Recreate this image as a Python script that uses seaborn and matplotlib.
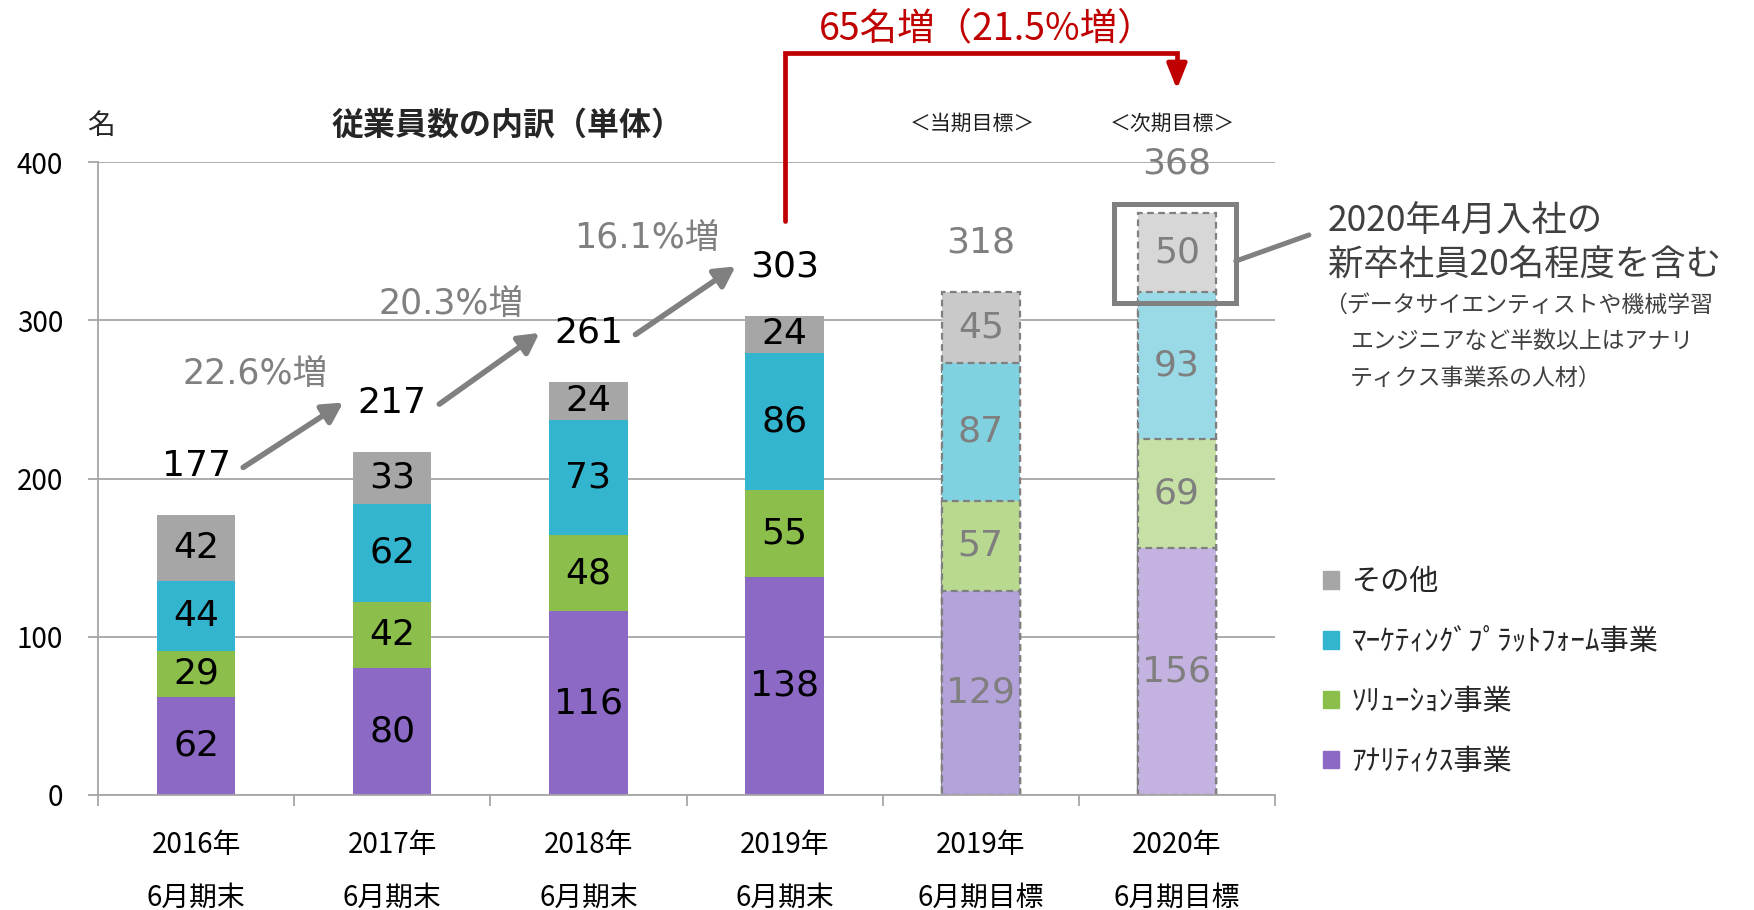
import numpy as np
import pandas as pd
import matplotlib
matplotlib.use("Agg")
import matplotlib.pyplot as plt
import seaborn as sns
from matplotlib.patches import Rectangle, Patch

# ---- data ----
periods = ["2016年\n6月期末", "2017年\n6月期末", "2018年\n6月期末",
           "2019年\n6月期末", "2019年\n6月期目標", "2020年\n6月期目標"]
analytics = [62, 80, 116, 138, 129, 156]
solution = [29, 42, 48, 55, 57, 69]
marketing = [44, 62, 73, 86, 87, 93]
other = [42, 33, 24, 24, 45, 50]
growth_labels = ["22.6%増", "20.3%増", "16.1%増"]
segment_names = ["ｱﾅﾘﾃｨｸｽ事業", "ｿﾘｭｰｼｮﾝ事業", "ﾏｰｹﾃｨﾝｸﾞﾌﾟﾗｯﾄﾌｫｰﾑ事業", "その他"]
target_idx = [4, 5]

# colours: actual / current target / next target
colors = {
    "ｱﾅﾘﾃｨｸｽ事業": ["#8B69C5"] * 4 + ["#B4A2DA", "#C4B3E0"],
    "ｿﾘｭｰｼｮﾝ事業": ["#8BBE4A"] * 4 + ["#B9D890", "#C6E0A5"],
    "ﾏｰｹﾃｨﾝｸﾞﾌﾟﾗｯﾄﾌｫｰﾑ事業": ["#33B5CF"] * 4 + ["#80D2E0", "#9AD9E6"],
    "その他": ["#A6A6A6"] * 4 + ["#C9C9C9", "#D7D7D7"],
}

df = pd.DataFrame({"period": periods, "ｱﾅﾘﾃｨｸｽ事業": analytics,
                   "ｿﾘｭｰｼｮﾝ事業": solution, "ﾏｰｹﾃｨﾝｸﾞﾌﾟﾗｯﾄﾌｫｰﾑ事業": marketing,
                   "その他": other})
cum = df[segment_names].cumsum(axis=1)
totals = cum["その他"].values

sns.set_theme(style="white")
JP = ["Noto Sans CJK JP", "DejaVu Sans"]
NUM = ["DejaVu Sans", "Noto Sans CJK JP"]
plt.rcParams["font.family"] = JP

GRAY = "#808080"
RED = "#C00000"

fig = plt.figure(figsize=(17.54, 9.10), dpi=100)
ax = fig.add_axes([98 / 1754, 1 - 795 / 910, (1275 - 98) / 1754, (795 - 162) / 910])

# stacked bars: draw cumulative heights from the top segment down
for name in reversed(segment_names):
    n0 = len(ax.patches)
    sub = pd.DataFrame({"period": periods, "h": cum[name].values})
    sns.barplot(data=sub, x="period", y="h", hue="period",
                palette=dict(zip(periods, colors[name])), width=0.4,
                saturation=1, errorbar=None, legend=False, ax=ax, zorder=2)
    for p in ax.patches[n0:]:
        i = int(round(p.get_x() + p.get_width() / 2))
        if i in target_idx:
            p.set_edgecolor("#7F7F7F")
            p.set_linestyle((0, (3, 2)))
            p.set_linewidth(1.6)
        else:
            p.set_linewidth(0)

# segment labels
for i in range(len(periods)):
    base = 0
    for name in segment_names:
        v = df[name].iloc[i]
        c = "#7F7F7F" if i in target_idx else "black"
        ax.text(i, base + v / 2, str(v), ha="center", va="center",
                fontsize=26, color=c, family=NUM, zorder=5)
        base += v

# total labels
label_y = totals + 31
for i, t in enumerate(totals):
    c = "#7F7F7F" if i in target_idx else "black"
    ax.text(i, label_y[i], str(t), ha="center", va="center", fontsize=26,
            color=c, family=NUM, zorder=5, clip_on=False)

# growth arrows between actual totals
for i, lab in enumerate(growth_labels):
    ax.annotate("", xy=(i + 0.75, label_y[i + 1]), xytext=(i + 0.24, label_y[i] - 1),
                arrowprops=dict(arrowstyle="-|>,head_length=0.55,head_width=0.3",
                                color=GRAY, lw=4, mutation_scale=22,
                                shrinkA=0, shrinkB=0), zorder=4)
    ax.text(i + 0.3, label_y[i + 1] + 18, lab, ha="center", va="center",
            fontsize=25, color=GRAY, family=NUM)

# red bracket 2019 actual -> 2020 target
top = 469
ax.plot([3, 3, 5, 5], [363, top, top, 460], color=RED, lw=3.4,
        solid_joinstyle="miter", clip_on=False, zorder=6)
ax.annotate("", xy=(5, 446), xytext=(5, 462), annotation_clip=False,
            arrowprops=dict(arrowstyle="-|>,head_length=0.75,head_width=0.3",
                            color=RED, lw=3.4, mutation_scale=20,
                            shrinkA=0, shrinkB=0))
ax.text(4.035, 484, "65名増（21.5%増）", ha="center", va="center",
        fontsize=27, color=RED, clip_on=False)

ax.text(3.96, 424, "＜当期目標＞", ha="center", va="center", fontsize=15,
        color="#202020", clip_on=False)
ax.text(4.975, 424, "＜次期目標＞", ha="center", va="center", fontsize=15,
        color="#202020", clip_on=False)

# callout box around new-graduate segment
ax.add_patch(Rectangle((4.68, 311), 0.62, 62.5, fill=False, edgecolor=GRAY,
                       lw=3.6, clip_on=False, zorder=6))
ax.plot([5.30, 5.673], [337.4, 353.9], color=GRAY, lw=3.6, clip_on=False, zorder=6)

fig.text(1328 / 1754, 1 - 222 / 910, "2020年4月入社の", fontsize=25.5,
         color="#404040", va="center")
fig.text(1328 / 1754, 1 - 266 / 910, "新卒社員20名程度を含む", fontsize=25.5,
         color="#404040", va="center")
fig.text(1324 / 1754, 1 - 305 / 910, "（データサイエンティストや機械学習",
         fontsize=16.5, color="#404040", va="center")
fig.text(1350 / 1754, 1 - 341 / 910, "エンジニアなど半数以上はアナリ",
         fontsize=16.5, color="#404040", va="center")
fig.text(1350 / 1754, 1 - 378 / 910, "ティクス事業系の人材）",
         fontsize=16.5, color="#404040", va="center")

# titles
fig.text(101 / 1754, 1 - 126 / 910, "名", fontsize=20, ha="center", va="center")
fig.text(508 / 1754, 1 - 126 / 910, "従業員数の内訳（単体）", fontsize=23,
         fontweight="bold", ha="center", va="center")

# axes styling
ax.set_xlim(-0.5, 5.5)
ax.set_ylim(0, 400)
ax.set_xlabel("")
ax.set_ylabel("")
ax.set_yticks([0, 100, 200, 300, 400])
ax.yaxis.grid(True, color="#A6A6A6", lw=1.3, zorder=0)
ax.set_axisbelow(True)
for s in ["top", "right"]:
    ax.spines[s].set_visible(False)
for s in ["left", "bottom"]:
    ax.spines[s].set_color("#A6A6A6")
    ax.spines[s].set_linewidth(1.3)
ax.tick_params(axis="y", length=7, width=1.3, color="#A6A6A6", pad=18,
               labelsize=20, labelcolor="black", left=True)
ax.set_xticks(range(len(periods)))
ax.set_xticklabels(periods, linespacing=2.0)
ax.set_xticks(np.arange(-0.5, 6, 1), minor=True)
ax.tick_params(axis="x", which="major", length=0, pad=25, labelsize=20,
               labelcolor="black")
ax.tick_params(axis="x", which="minor", length=8, width=1.3, color="#A6A6A6",
               bottom=True)

# legend
handles = [Patch(color=colors[n][0]) for n in reversed(segment_names)]
fig.legend(handles, list(reversed(segment_names)), loc="center left",
           bbox_to_anchor=(1323 / 1754, 1 - 672 / 910), frameon=False,
           handlelength=0.55, handleheight=0.55,
           handletextpad=0.42, labelspacing=1.02, borderpad=0, borderaxespad=0,
           prop={"family": JP, "size": 21})

fig.savefig("out.png", dpi=100)
